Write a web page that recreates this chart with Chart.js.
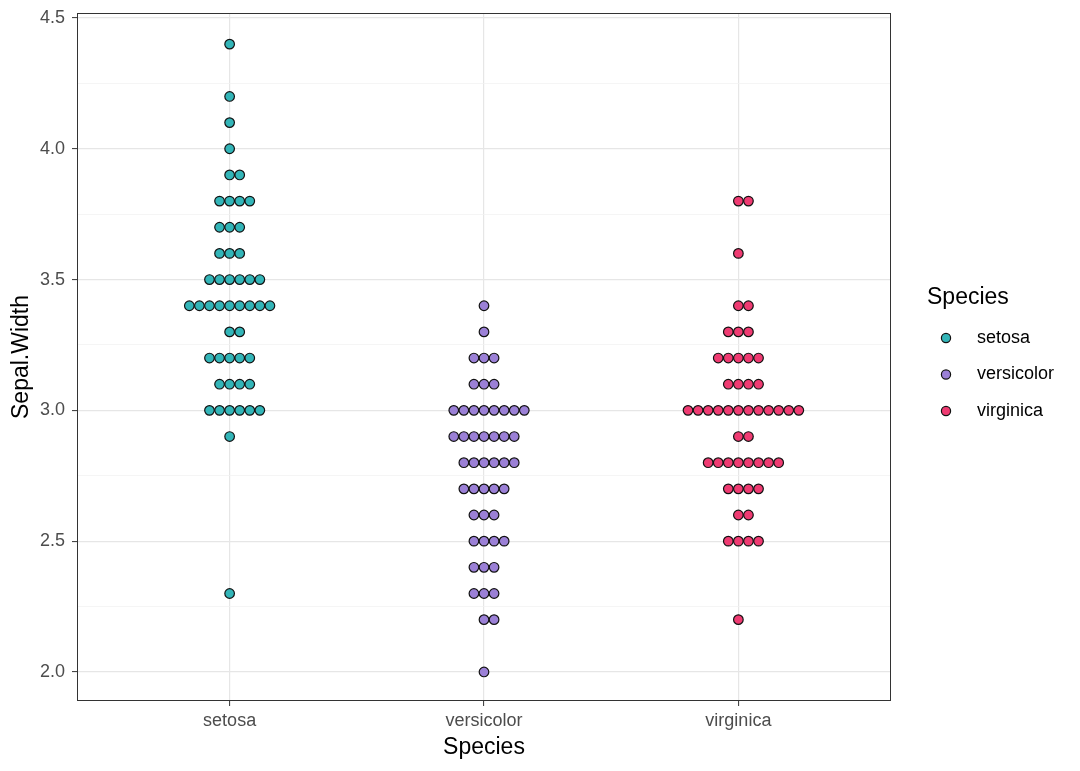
<!DOCTYPE html>
<html>
<head>
<meta charset="utf-8">
<script src="https://cdn.jsdelivr.net/npm/chart.js@4.4.1/dist/chart.umd.min.js"></script>
<style>
  html, body { margin: 0; padding: 0; background: #fff; }
  #wrap { width: 1080px; height: 771px; position: relative; }
</style>
</head>
<body>
<div id="wrap"><canvas id="dotChart"></canvas></div>
<script>
// Species and their colours
const categories = ["setosa", "versicolor", "virginica"];
const speciesColors = ["#33b5b8", "#9b80d6", "#ef3b72"];

// Sepal.Width values and how many dots stack on each value
const setosaValues = [2.3, 2.9, 3.0, 3.1, 3.2, 3.3, 3.4, 3.5, 3.6, 3.7, 3.8, 3.9, 4.0, 4.1, 4.2, 4.4];
const setosaCounts = [1, 1, 6, 4, 5, 2, 9, 6, 3, 3, 4, 2, 1, 1, 1, 1];

const versicolorValues = [2.0, 2.2, 2.3, 2.4, 2.5, 2.6, 2.7, 2.8, 2.9, 3.0, 3.1, 3.2, 3.3, 3.4];
const versicolorCounts = [1, 2, 3, 3, 4, 3, 5, 6, 7, 8, 3, 3, 1, 1];

const virginicaValues = [2.2, 2.5, 2.6, 2.7, 2.8, 2.9, 3.0, 3.1, 3.2, 3.3, 3.4, 3.6, 3.8];
const virginicaCounts = [1, 4, 2, 4, 8, 2, 12, 4, 5, 3, 2, 1, 2];

// y axis ticks: major (labelled) and minor grid
const yTicks = [2.0, 2.25, 2.5, 2.75, 3.0, 3.25, 3.5, 3.75, 4.0, 4.25, 4.5];

const FONT = "'Liberation Sans', Arial, Helvetica, sans-serif";
const DOT_STEP = 0.0396; // horizontal stacking step, in category units

// stack dots side by side ("centerwhole" like ggplot)
function stackDots(catIndex, values, counts) {
    const pts = [];
    values.forEach((v, i) => {
        const n = counts[i];
        const start = -Math.floor((n - 1) / 2);
        for (let j = 0; j < n; j++) {
            pts.push({ x: catIndex + 1 + (start + j) * DOT_STEP, y: v });
        }
    });
    return pts;
}

const allValues = [setosaValues, versicolorValues, virginicaValues];
const allCounts = [setosaCounts, versicolorCounts, virginicaCounts];

const datasets = categories.map((name, i) => ({
    label: name,
    data: stackDots(i, allValues[i], allCounts[i]),
    backgroundColor: speciesColors[i],
    borderColor: "#111",
    borderWidth: 1.2,
    pointRadius: 4.8,
    pointHoverRadius: 4.8
}));

function isMajor(v) {
    return Math.abs(v * 2 - Math.round(v * 2)) < 1e-6;
}

// panel border all round + legend on the right
const extras = {
    id: "extras",
    afterDraw(chart) {
        const c = chart.ctx;
        const a = chart.chartArea;
        c.save();
        c.strokeStyle = "#333";
        c.lineWidth = 1;
        c.strokeRect(a.left + 0.5, a.top + 0.5, a.right - a.left - 1, a.bottom - a.top - 1);

        // legend
        c.fillStyle = "#000";
        c.font = "23px " + FONT;
        c.textBaseline = "middle";
        c.textAlign = "left";
        c.fillText("Species", 927, 298);
        c.font = "18px " + FONT;
        categories.forEach((name, i) => {
            const y = 338 + i * 36.5;
            c.beginPath();
            c.arc(946, y, 4.6, 0, Math.PI * 2);
            c.fillStyle = speciesColors[i];
            c.fill();
            c.lineWidth = 1.2;
            c.strokeStyle = "#111";
            c.stroke();
            c.fillStyle = "#000";
            c.fillText(name, 977, y);
        });
        c.restore();
    }
};

const ctx = document.getElementById("dotChart").getContext("2d");
new Chart(ctx, {
    type: "scatter",
    data: { datasets },
    options: {
        responsive: true,
        maintainAspectRatio: false,
        animation: false,
        layout: { padding: { top: 13, right: 189, left: 0, bottom: 0 } },
        plugins: {
            legend: { display: false },
            tooltip: { enabled: false }
        },
        scales: {
            x: {
                type: "linear",
                min: 0.4,
                max: 3.6,
                afterBuildTicks: s => { s.ticks = [1, 2, 3].map(v => ({ value: v })); },
                afterFit: s => { s.height = 70; },
                border: { display: false },
                grid: {
                    color: "#e6e6e6",
                    lineWidth: 1.2,
                    drawTicks: true,
                    tickLength: 5,
                    tickColor: "#333",
                    tickWidth: 1
                },
                ticks: {
                    padding: 4,
                    color: "#4d4d4d",
                    font: { family: FONT, size: 18 },
                    callback: v => categories[Math.round(v) - 1]
                },
                title: {
                    display: true,
                    text: "Species",
                    color: "#000",
                    font: { family: FONT, size: 23 },
                    padding: { top: 0, bottom: 10 }
                }
            },
            y: {
                min: 1.889,
                max: 4.519,
                afterBuildTicks: s => { s.ticks = yTicks.map(v => ({ value: v })); },
                afterFit: s => {
                    s.width = 77;
                    // don't let the top label push the panel down
                    s.paddingTop = 0;
                    s.paddingBottom = 0;
                },
                border: { display: false },
                grid: {
                    color: c => isMajor(c.tick.value) ? "#e6e6e6" : "#f0f0f0",
                    lineWidth: c => isMajor(c.tick.value) ? 1.2 : 0.7,
                    drawTicks: true,
                    tickLength: 5,
                    tickColor: c => isMajor(c.tick.value) ? "#333" : "rgba(0,0,0,0)",
                    tickWidth: 1
                },
                ticks: {
                    padding: 7,
                    color: "#4d4d4d",
                    font: { family: FONT, size: 18 },
                    callback: v => isMajor(v) ? v.toFixed(1) : ""
                },
                title: {
                    display: true,
                    text: "Sepal.Width",
                    color: "#000",
                    font: { family: FONT, size: 23 },
                    padding: { top: 8, bottom: 0 }
                }
            }
        }
    },
    plugins: [extras]
});
</script>
</body>
</html>
